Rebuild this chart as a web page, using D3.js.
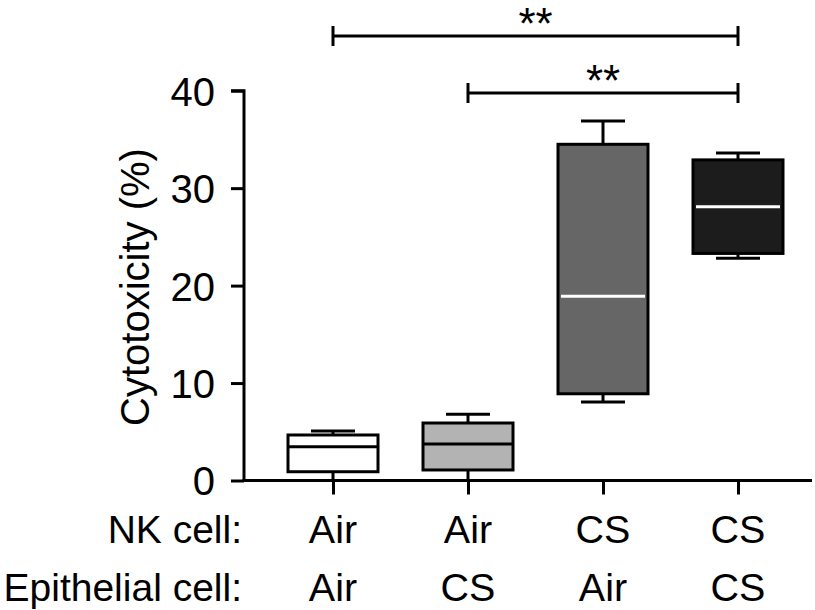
<!DOCTYPE html>
<html><head><meta charset="utf-8">
<script src="https://cdn.jsdelivr.net/npm/d3@7"></script>
<style>body{margin:0;background:#fff}svg{display:block}text{font-family:"Liberation Sans",Arial,Helvetica,sans-serif;fill:#000}</style>
</head><body>
<svg id="c" width="815" height="610"></svg>
<script>
const groups = ["g1","g2","g3","g4"];
const nkLabels = ["Air","Air","CS","CS"];
const epiLabels = ["Air","CS","Air","CS"];
const mins   = [0.0, 0.0, 8.05, 22.8];
const q1s    = [0.9, 1.08, 8.9, 23.3];
const medians= [3.47, 3.75, 18.9, 28.1];
const q3s    = [4.67, 5.9, 34.5, 32.9];
const maxs   = [5.08, 6.8, 36.9, 33.6];
const fills  = ["#ffffff","#b3b3b3","#666666","#1c1c1c"];
const medianColors = ["#000","#000","#fff","#fff"];
const yTicks = [0,10,20,30,40];
const sigPairs = [["g1","g4","**"],["g2","g4","**"]];
const sigLevels = [36, 93];

const svg = d3.select("#c");
const x = d3.scalePoint().domain(groups).range([333,738]);
const y = d3.scaleLinear().domain([0,40]).range([480.5,90.7]);
const boxW = 90, capW = 44, sw = 3;

// boxes
groups.forEach((g,i)=>{
  const cx = x(g);
  const gg = svg.append("g");
  gg.append("line").attr("x1",cx).attr("x2",cx).attr("y1",y(maxs[i])).attr("y2",y(q3s[i])).attr("stroke","#000").attr("stroke-width",sw);
  gg.append("line").attr("x1",cx).attr("x2",cx).attr("y1",y(q1s[i])).attr("y2",y(mins[i])).attr("stroke","#000").attr("stroke-width",sw);
  gg.append("line").attr("x1",cx-capW/2).attr("x2",cx+capW/2).attr("y1",y(maxs[i])).attr("y2",y(maxs[i])).attr("stroke","#000").attr("stroke-width",sw);
  gg.append("line").attr("x1",cx-capW/2).attr("x2",cx+capW/2).attr("y1",y(mins[i])).attr("y2",y(mins[i])).attr("stroke","#000").attr("stroke-width",sw);
  gg.append("rect").attr("x",cx-boxW/2).attr("y",y(q3s[i])).attr("width",boxW).attr("height",y(q1s[i])-y(q3s[i]))
    .attr("fill",fills[i]).attr("stroke","#000").attr("stroke-width",sw);
  gg.append("line").attr("x1",cx-boxW/2+ (i>=2?3:0)).attr("x2",cx+boxW/2-(i>=2?3:0)).attr("y1",y(medians[i])).attr("y2",y(medians[i]))
    .attr("stroke",medianColors[i]).attr("stroke-width",sw);
});

// y axis
const yAx = svg.append("g").attr("transform","translate(244,0)")
  .call(d3.axisLeft(y).tickValues(yTicks).tickSize(13).tickPadding(16));
yAx.selectAll("path,line").attr("stroke","#000").attr("stroke-width",sw);
yAx.select(".domain").attr("d",`M-13,${y(40)}H0V${y(0)}`);
yAx.selectAll("text").attr("font-size",40).attr("dy","0.36em").style("font-family","Liberation Sans, Arial, sans-serif");

// x axis
const xAx = svg.append("g").attr("transform",`translate(0,${y(0)})`)
  .call(d3.axisBottom(x).tickSize(14).tickFormat(""));
xAx.selectAll("path,line").attr("stroke","#000").attr("stroke-width",sw);
xAx.select(".domain").attr("d","M242.5,0H812");

// category labels
const lab = svg.append("g").attr("font-size",39.5);
groups.forEach((g,i)=>{
  lab.append("text").attr("x",x(g)).attr("y",543).attr("text-anchor","middle").text(nkLabels[i]);
  lab.append("text").attr("x",x(g)).attr("y",601).attr("text-anchor","middle").text(epiLabels[i]);
});
lab.append("text").attr("x",242).attr("y",543).attr("text-anchor","end").attr("font-size",39).text("NK cell:");
lab.append("text").attr("x",242).attr("y",601).attr("text-anchor","end").attr("font-size",39).text("Epithelial cell:");

// y title
svg.append("text").attr("transform",`translate(149,287) rotate(-90)`)
  .attr("text-anchor","middle").attr("font-size",40).text("Cytotoxicity (%)");

// significance brackets
sigPairs.forEach((p,i)=>{
  const x1 = x(p[0]), x2 = x(p[1]), yy = sigLevels[i];
  const b = svg.append("g").attr("stroke","#000").attr("stroke-width",sw);
  b.append("line").attr("x1",x1).attr("x2",x2).attr("y1",yy).attr("y2",yy);
  b.append("line").attr("x1",x1).attr("x2",x1).attr("y1",yy-10).attr("y2",yy+10);
  b.append("line").attr("x1",x2).attr("x2",x2).attr("y1",yy-10).attr("y2",yy+10);
  svg.append("text").attr("x",(x1+x2)/2).attr("y",yy+3).attr("text-anchor","middle")
    .attr("font-size",44).text(p[2]);
});
</script>
</body></html>
